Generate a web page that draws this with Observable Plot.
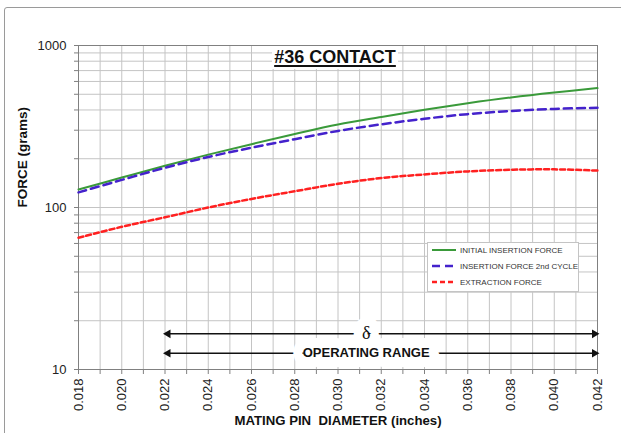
<!DOCTYPE html>
<html><head><meta charset="utf-8">
<script src="https://cdn.jsdelivr.net/npm/d3@7"></script>
<script src="https://cdn.jsdelivr.net/npm/@observablehq/plot@0.6"></script>
<style>
body{margin:0;background:#fff;font-family:"Liberation Sans",Arial,sans-serif;}
#wrap{position:relative;width:621px;height:433px;overflow:hidden;background:#fff;}
#wrap > svg{position:absolute;left:0;top:0;}
#border{position:absolute;left:4px;top:7px;width:640px;height:450px;border:1px solid #9a9a9a;border-radius:3px;pointer-events:none;}
#title{position:absolute;left:272px;top:46px;width:126px;height:23px;background:#fff;font-weight:bold;font-size:18px;text-align:center;line-height:23px;text-decoration:underline;text-decoration-thickness:2px;text-underline-offset:2px;color:#111;white-space:nowrap;}
#legend{position:absolute;left:427px;top:242px;width:150px;height:48px;background:#fff;border:1px solid #c4c4c4;}
#legend .lrow{position:absolute;left:3px;height:10px;display:flex;align-items:center;font-size:8px;color:#333;white-space:nowrap;}
#legend .lrow svg{position:static;display:block;margin-right:3px;flex:none;}
</style>
</head><body>
<div id="wrap"></div>
<script>
// ---- data ----
const diameter = [0.018, 0.020, 0.022, 0.024, 0.026, 0.028, 0.030, 0.032, 0.034, 0.036, 0.038, 0.040, 0.042];
const initialInsertion = [129, 153, 181, 212, 246, 284, 325, 362, 401, 440, 478, 513, 546];
const secondCycle      = [124, 148, 176, 205, 234, 264, 297, 326, 353, 377, 394, 406, 413];
const extraction       = [65, 76, 87, 100, 113, 126, 140, 152, 160, 167, 171, 172, 169];

const seriesNames  = ["INITIAL INSERTION FORCE", "INSERTION FORCE 2nd CYCLE", "EXTRACTION FORCE"];
const seriesColors = ["#3a9a3a", "#4422cc", "#ff2020"];
const seriesDash   = [null, "8,5", "5,3"];
const seriesWidth  = [2, 2.5, 2.5];

const xTicks = d3.range(18, 43).map(d => d / 1000);
const xLabelTicks = d3.range(18, 43, 2).map(d => d / 1000);
const yTicks = [10,20,30,40,50,60,70,80,90,100,200,300,400,500,600,700,800,900,1000];
const yLabelTicks = [10, 100, 1000];

const chartTitle = "#36 CONTACT";
const xTitle = "MATING PIN  DIAMETER (inches)";
const yTitle = "FORCE (grams)";

// operating range annotation
const rangeLabels = ["δ", "OPERATING RANGE"];
const rangeLevels = [16.6, 12.6];
const rangeStart = 0.022, rangeEnd = 0.042, rangeLabelX = 0.0313;

// ---- build table ----
const seriesValues = [initialInsertion, secondCycle, extraction];
const rows = [];
seriesValues.forEach((vals, i) => vals.forEach((v, j) => rows.push({x: diameter[j], y: v, s: seriesNames[i]})));

const rangeRows = rangeLabels.map((t, i) => ({t, y: rangeLevels[i], x1: rangeStart, x2: rangeEnd, xm: rangeLabelX}));

const font = "Liberation Sans, Arial, sans-serif";

const lineMarks = seriesNames.map((name, i) =>
  Plot.line(rows.filter(r => r.s === name), {
    x: "x", y: "y", stroke: seriesColors[i], strokeWidth: seriesWidth[i],
    strokeDasharray: seriesDash[i] || undefined, curve: "catmull-rom"
  })
);

const chart = Plot.plot({
  width: 621, height: 433,
  marginLeft: 78, marginRight: 24, marginTop: 45, marginBottom: 64,
  style: {fontFamily: font, fontSize: "13px", color: "#222", background: "transparent", overflow: "visible"},
  x: {domain: [0.018, 0.042], axis: null},
  y: {type: "log", domain: [10, 1000], axis: null},
  marks: [
    Plot.gridX(xTicks, {stroke: "#c4c4c4", strokeOpacity: 1}),
    Plot.gridY(yTicks, {stroke: "#c4c4c4", strokeOpacity: 1}),
    Plot.axisY(yTicks, {tickSize: 4, tickPadding: 8, stroke: "#808080", fill: "#222", fontSize: 13,
      tickFormat: d => yLabelTicks.includes(d) ? String(d) : "", label: null}),
    Plot.axisX(xTicks, {tickSize: 5, tickPadding: 4, tickRotate: -90, stroke: "#808080", fill: "#222", fontSize: 13,
      tickFormat: d => xLabelTicks.some(t => Math.abs(t - d) < 1e-9) ? d.toFixed(3) : "", label: null}),
    Plot.frame({stroke: "#808080"}),
    ...lineMarks,
    // operating range arrows
    Plot.link(rangeRows, {x1: "x1", x2: "x2", y1: "y", y2: "y", stroke: "#111", strokeWidth: 1.5}),
    Plot.dot(rangeRows, {x: "x1", y: "y", symbol: "triangle", r: 3.2, fill: "#111", rotate: -90, dx: 3}),
    Plot.dot(rangeRows, {x: "x2", y: "y", symbol: "triangle", r: 3.2, fill: "#111", rotate: 90, dx: -3}),
    Plot.text(rangeRows.filter(d => d.t !== "δ"), {x: "xm", y: "y", text: "t", fontWeight: "bold", fontSize: 13,
      fill: "#111", stroke: "white", strokeWidth: 20, paintOrder: "stroke"}),
    Plot.text(rangeRows.filter(d => d.t === "δ"), {x: "xm", y: "y", text: "t", fontSize: 18, fontFamily: "Liberation Serif, Times New Roman, serif",
      fill: "#111", stroke: "white", strokeWidth: 18, paintOrder: "stroke", dy: -1}),
    // axis titles
    Plot.text([yTitle], {frameAnchor: "left", dx: -56, rotate: -90, fontWeight: "bold", fontSize: 13.5, fill: "#111"}),
    Plot.text([xTitle], {frameAnchor: "bottom", dy: 55, fontWeight: "bold", fontSize: 13.2, fill: "#111"})
  ]
});

const wrap = document.getElementById("wrap");
wrap.appendChild(chart);

const border = document.createElement("div");
border.id = "border";
wrap.appendChild(border);

const title = document.createElement("div");
title.id = "title";
title.textContent = chartTitle;
wrap.appendChild(title);

const legend = document.createElement("div");
legend.id = "legend";
seriesNames.forEach((name, i) => {
  const row = document.createElement("div");
  row.className = "lrow";
  row.style.top = (2 + i * 16) + "px";
  row.innerHTML = `<svg width="26" height="6"><line x1="1" x2="25" y1="3" y2="3" stroke="${seriesColors[i]}" stroke-width="${seriesWidth[i]}" ${seriesDash[i] ? `stroke-dasharray="${seriesDash[i]}"` : ""}/></svg>`;
  const span = document.createElement("span");
  span.textContent = name;
  row.appendChild(span);
  legend.appendChild(row);
});
wrap.appendChild(legend);
</script>
</body></html>
